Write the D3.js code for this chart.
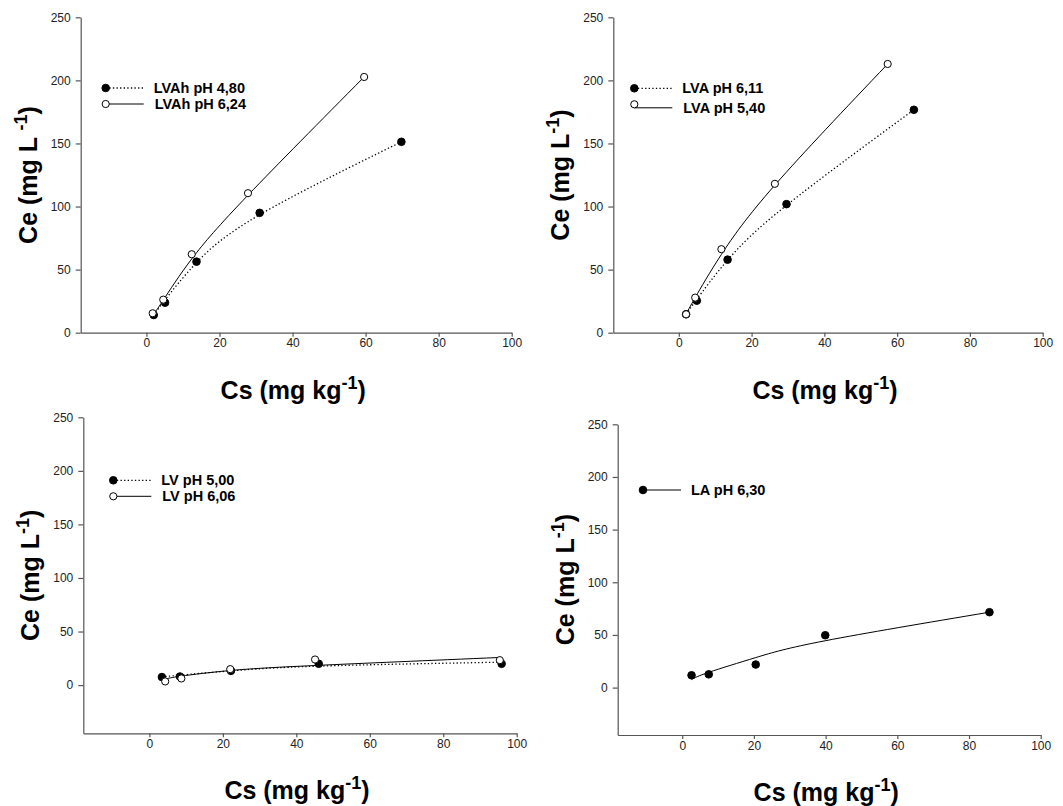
<!DOCTYPE html>
<html>
<head>
<meta charset="utf-8">
<script src="https://cdn.jsdelivr.net/npm/d3@7"></script>
<style>
  body { margin: 0; background: #fff; }
  svg { display: block; font-family: "Liberation Sans", Arial, sans-serif; }
  .tick text { font-size: 12px; fill: #222; }
  .domain, .tick line { stroke: #555; stroke-width: 1.2; }
</style>
</head>
<body>
<svg width="1063" height="806"></svg>
<script>
// x ticks / y ticks shared by all four panels
var xTicks = [0, 20, 40, 60, 80, 100];
var yTicks = [0, 50, 100, 150, 200, 250];

// panel 1: LVAh
var lvahLowLabel = "LVAh pH 4,80";
var lvahLowCs = [2.0, 5.1, 13.7, 31.0, 69.8];
var lvahLowCe = [14.0, 23.8, 56.3, 95.0, 151.3];
var lvahLowFit = [14.0, 26.0, 55.5, 93.5, 151.3];
var lvahHighLabel = "LVAh pH 6,24";
var lvahHighCs = [1.7, 4.6, 12.4, 27.8, 59.6];
var lvahHighCe = [15.4, 26.2, 62.2, 110.6, 202.7];
var lvahHighFit = [13.5, 25.8, 58.5, 109.0, 202.7];

// panel 2: LVA
var lvaLowLabel = "LVA pH 6,11";
var lvaLowCs = [2.0, 4.95, 13.4, 29.6, 64.6];
var lvaLowCe = [14.6, 25.4, 57.9, 101.9, 176.7];
var lvaLowFit = [14.6, 26.5, 57.5, 101.0, 176.7];
var lvaHighLabel = "LVA pH 5,40";
var lvaHighCs = [2.0, 4.5, 11.7, 26.4, 57.4];
var lvaHighCe = [14.6, 27.8, 66.2, 118.0, 213.0];
var lvaHighFit = [14.6, 27.8, 62.0, 117.0, 213.0];

// panel 3: LV
var lvLowLabel = "LV pH 5,00";
var lvLowCs = [3.4, 8.3, 22.2, 46.1, 95.9];
var lvLowCe = [7.5, 8.0, 13.3, 19.9, 19.9];
var lvLowFit = [7.5, 9.3, 13.3, 17.7, 21.4];
var lvHighLabel = "LV pH 6,06";
var lvHighCs = [4.3, 8.7, 22.0, 45.1, 95.4];
var lvHighCe = [3.4, 6.2, 14.9, 23.9, 23.3];
var lvHighFit = [5.6, 8.4, 13.6, 18.3, 25.8];

// panel 4: LA
var laLabel = "LA pH 6,30";
var laCs = [2.6, 7.4, 20.5, 39.9, 85.7];
var laCe = [11.7, 12.6, 21.9, 49.7, 71.6];
var laFit = [7.6, 14.5, 28.5, 44.5, 71.6];

var svg = d3.select("svg");

function pts(xs, ys) {
  return xs.map(function(x, i) { return {x: x, y: ys[i]}; });
}

function drawPanel(p) {
  var x = d3.scaleLinear().domain([-18, 100]).range([p.x0, p.x1]);
  var y = d3.scaleLinear().domain([p.yMin, 250]).range([p.y0, p.y1]);
  var g = svg.append("g");

  g.append("g")
      .attr("transform", "translate(0," + p.y0 + ")")
      .call(d3.axisBottom(x).tickValues(xTicks).tickSize(4).tickSizeOuter(0).tickPadding(2));
  g.append("g")
      .attr("transform", "translate(" + p.x0 + ",0)")
      .call(d3.axisLeft(y).tickValues(yTicks).tickSize(5).tickSizeOuter(0).tickPadding(5));

  var line = d3.line()
      .x(function(d) { return x(d.x); })
      .y(function(d) { return y(d.y); })
      .curve(d3.curveNatural);

  p.series.forEach(function(s) {
    g.append("path")
        .datum(pts(s.cs, s.fit))
        .attr("fill", "none")
        .attr("stroke", "#000")
        .attr("stroke-width", s.dotted ? 1.3 : 1)
        .attr("stroke-dasharray", s.dotted ? "1.3,2.3" : null)
        .attr("d", line);
  });
  p.series.forEach(function(s) {
    g.selectAll(null)
        .data(pts(s.cs, s.ce))
      .enter().append("circle")
        .attr("cx", function(d) { return x(d.x); })
        .attr("cy", function(d) { return y(d.y); })
        .attr("r", s.open ? 3.6 : 3.8)
        .attr("fill", s.open ? "#fff" : "#000")
        .attr("stroke", "#000")
        .attr("stroke-width", 1);
  });

  // legend
  p.series.forEach(function(s, i) {
    var ly = p.legY + i * 16;
    g.append("line")
        .attr("x1", p.legX).attr("x2", p.legX + 38)
        .attr("y1", ly + (s.lineDy || 0)).attr("y2", ly + (s.lineDy || 0))
        .attr("stroke", "#000")
        .attr("stroke-width", s.dotted ? 1.3 : 1)
        .attr("stroke-dasharray", s.dotted ? "1.3,2.3" : null);
    g.append("circle")
        .attr("cx", p.legX).attr("cy", ly)
        .attr("r", s.open ? 3.6 : 3.8)
        .attr("fill", s.open ? "#fff" : "#000")
        .attr("stroke", "#000");
    g.append("text")
        .attr("x", p.legX + 48 + (s.open ? 1 : 0))
        .attr("y", ly + 5 + (s.lineDy || 0))
        .attr("font-size", "14.5px")
        .attr("font-weight", "bold")
        .text(s.label);
  });

  // axis titles
  var xt = g.append("text")
      .attr("x", (p.x0 + p.x1) / 2 - 3)
      .attr("y", p.y0 + 66)
      .attr("text-anchor", "middle")
      .attr("font-size", "25px")
      .attr("font-weight", "bold");
  xt.append("tspan").text("Cs (mg kg");
  xt.append("tspan").attr("dy", -10).attr("font-size", "18px").text("-1");
  xt.append("tspan").attr("dy", 10).text(")");

  var yt = g.append("text")
      .attr("transform", "translate(" + (p.x0 - 44) + "," + ((p.y0 + p.y1) / 2) + ") rotate(-90)")
      .attr("text-anchor", "middle")
      .attr("font-size", "25px")
      .attr("font-weight", "bold");
  yt.append("tspan").text(p.yTitle);
  yt.append("tspan").attr("dy", -10).attr("font-size", "18px").text("-1");
  yt.append("tspan").attr("dy", 10).text(")");
}

drawPanel({
  x0: 80.7, x1: 511.7, y0: 332.7, y1: 17.3, yMin: 0,
  legX: 105.7, legY: 88, yTitle: "Ce (mg L ",
  series: [
    {label: lvahLowLabel, cs: lvahLowCs, ce: lvahLowCe, fit: lvahLowFit, dotted: true, open: false},
    {label: lvahHighLabel, cs: lvahHighCs, ce: lvahHighCe, fit: lvahHighFit, dotted: false, open: true}
  ]
});

drawPanel({
  x0: 613.3, x1: 1042.7, y0: 332.7, y1: 17.3, yMin: 0,
  legX: 634.3, legY: 88.3, yTitle: "Ce (mg L",
  series: [
    {label: lvaLowLabel, cs: lvaLowCs, ce: lvaLowCe, fit: lvaLowFit, dotted: true, open: false},
    {label: lvaHighLabel, cs: lvaHighCs, ce: lvaHighCe, fit: lvaHighFit, dotted: false, open: true, lineDy: 3.5}
  ]
});

drawPanel({
  x0: 83.3, x1: 516.7, y0: 733.3, y1: 417.3, yMin: -45,
  legX: 113.3, legY: 480.3, yTitle: "Ce (mg L",
  series: [
    {label: lvLowLabel, cs: lvLowCs, ce: lvLowCe, fit: lvLowFit, dotted: true, open: false},
    {label: lvHighLabel, cs: lvHighCs, ce: lvHighCe, fit: lvHighFit, dotted: false, open: true}
  ]
});

drawPanel({
  x0: 617.7, x1: 1040.7, y0: 735, y1: 424.3, yMin: -45,
  legX: 643, legY: 490, yTitle: "Ce (mg L",
  series: [
    {label: laLabel, cs: laCs, ce: laCe, fit: laFit, dotted: false, open: false}
  ]
});
</script>
</body>
</html>
